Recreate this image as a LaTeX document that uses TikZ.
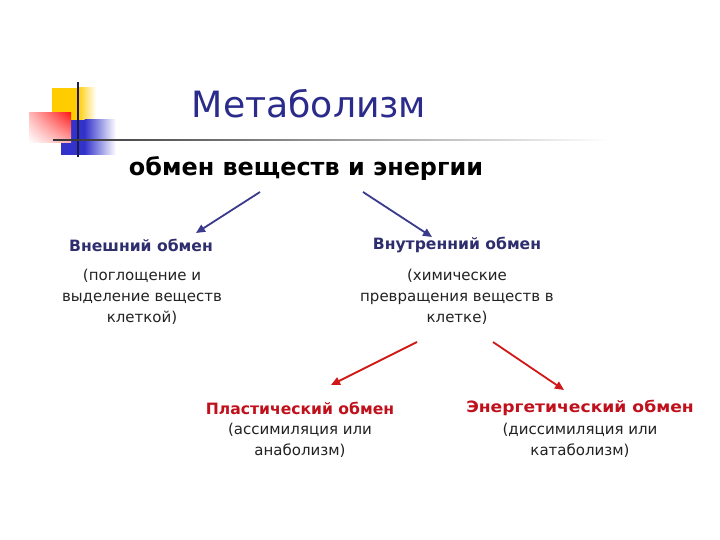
\documentclass[tikz,border=0pt]{standalone}
\usepackage{fontspec}
\setmainfont{DejaVu Sans}
\usetikzlibrary{arrows.meta,shadings}
\definecolor{titleblue}{HTML}{2B2B8C}
\definecolor{navy}{HTML}{2E2E6E}
\definecolor{arrblue}{HTML}{3A3A8C}
\definecolor{darkred}{HTML}{C0101C}
\definecolor{arrred}{HTML}{D01818}
\definecolor{bodytext}{HTML}{222222}
\definecolor{logoyellow}{HTML}{FFCC00}
\definecolor{logoblue}{HTML}{3333CC}
\definecolor{logored}{HTML}{FF1A1A}
\definecolor{linenavy}{HTML}{1A1A4A}
\tikzset{
  head/.style={font=\fontsize{15.6}{18}\selectfont\bfseries, inner sep=0pt},
  desc/.style={font=\fontsize{15}{21}\selectfont, align=center, text=bodytext, inner sep=0pt},
  bluehead/.style={head, text=navy},
  redhead/.style={head, text=darkred},
  bluearrow/.style={draw=arrblue, line width=1.8pt, -{Triangle[length=9pt,width=8pt]}},
  redarrow/.style={draw=arrred, line width=1.8pt, -{Triangle[length=9pt,width=8pt]}},
}
\begin{document}
\begin{tikzpicture}[x=1pt,y=-1pt]
\useasboundingbox (0,0) rectangle (720,540);
\fill[white] (0,0) rectangle (720,540);
% logo
\fill[logoyellow] (52,88) rectangle (78,120);
\shade[left color=logoyellow, right color=white] (77.5,88) rectangle (96,120);
\fill[logoblue] (61,120) rectangle (85,155);
\shade[left color=logoblue, right color=white] (84.5,120) rectangle (116,155);
\shade[upper right=logored, lower right=logored!35, upper left=logored!30, lower left=white] (29,113) rectangle (71,143);
\draw[linenavy, line width=1.1pt] (78,82) -- (78,157);
\shade[left color=black!80, right color=white] (53,139.3) rectangle (610,140.8);
% texts
\node[font=\fontsize{36.2}{40}\selectfont, text=titleblue, inner sep=0pt] (title) at (309,104) {Метаболизм};
\node[font=\fontsize{23.9}{28}\selectfont\bfseries, text=black, inner sep=0pt] (sub) at (306,169) {обмен веществ и энергии};
\node[bluehead] (ext) at (141,245) {Внешний обмен};
\node[desc] (extd) at (142,297) {(поглощение и\\выделение веществ\\клеткой)};
\node[bluehead] (int) at (457,245) {Внутренний обмен};
\node[desc] (intd) at (457,297) {(химические\\превращения веществ в\\клетке)};
\node[redhead] (plast) at (300,408) {Пластический обмен};
\node[desc] (plastd) at (300,440) {(ассимиляция или\\анаболизм)};
\node[redhead, xscale=1.1] (energ) at (580,408) {Энергетический обмен};
\node[desc] (energd) at (580,440) {(диссимиляция или\\катаболизм)};
% arrows
\coordinate (a1s) at (260,192);
\coordinate (a1e) at (196,233);
\coordinate (a2s) at (363,192);
\coordinate (a2e) at (432,237);
\coordinate (a3s) at (417,342);
\coordinate (a3e) at (331,385);
\coordinate (a4s) at (493,342);
\coordinate (a4e) at (564,390);
\draw[bluearrow] (a1s) -- (a1e);
\draw[bluearrow] (a2s) -- (a2e);
\draw[redarrow] (a3s) -- (a3e);
\draw[redarrow] (a4s) -- (a4e);
\end{tikzpicture}
\end{document}
